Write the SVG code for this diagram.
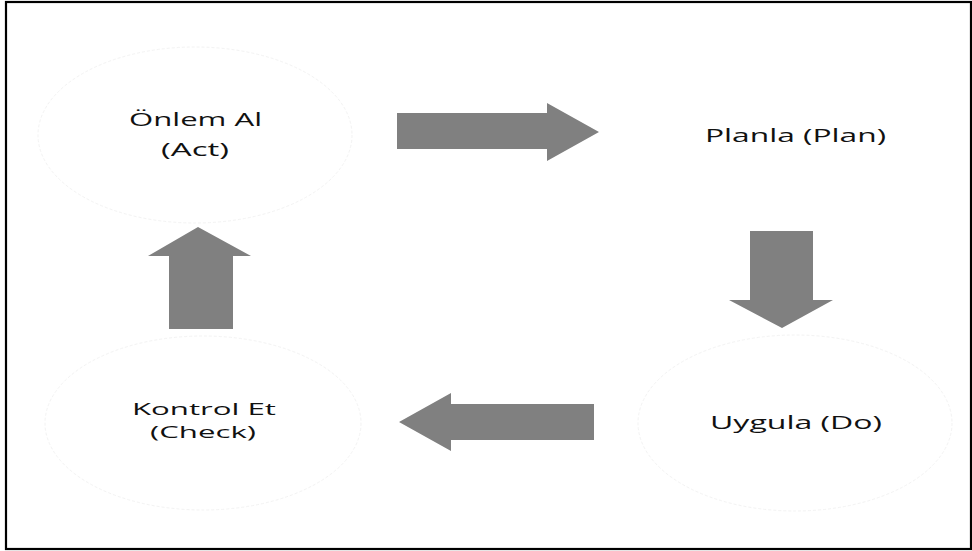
<svg xmlns="http://www.w3.org/2000/svg" width="972" height="551" viewBox="0 0 972 551">
  <style>
    .frame { fill: #ffffff; stroke: #000000; stroke-width: 2.2; }
    .ring { fill: none; stroke: #f3f3f3; stroke-width: 1; stroke-dasharray: 3 2; }
    .label { font-family: "Open Sans", "Noto Sans", "DejaVu Sans", sans-serif; font-size: 19px; fill: #111111; }
    .tight { font-size: 17px; }
    .block { fill: #808080; }
  </style>

  <rect class="frame" x="6" y="2" width="965" height="547"/>

  <g id="act">
    <ellipse class="ring" cx="195" cy="135" rx="157" ry="88"/>
    <text class="label" x="129" y="126" textLength="133" lengthAdjust="spacingAndGlyphs">Önlem Al</text>
    <text class="label" x="161" y="156" textLength="68" lengthAdjust="spacingAndGlyphs">(Act)</text>
  </g>

  <g id="plan">
    <text class="label" x="705" y="142" textLength="181" lengthAdjust="spacingAndGlyphs">Planla (Plan)</text>
  </g>

  <g id="do">
    <ellipse class="ring" cx="795" cy="423" rx="157" ry="88"/>
    <text class="label" x="710" y="429" textLength="172" lengthAdjust="spacingAndGlyphs">Uygula (Do)</text>
  </g>

  <g id="check">
    <ellipse class="ring" cx="203" cy="423" rx="158" ry="87"/>
    <text class="label tight" x="132" y="415" textLength="144" lengthAdjust="spacingAndGlyphs">Kontrol Et</text>
    <text class="label tight" x="150" y="438" textLength="106" lengthAdjust="spacingAndGlyphs">(Check)</text>
  </g>

  <g id="connectors">
    <!-- act to plan -->
    <polygon class="block" points="397,113 547,113 547,103 599,132 547,161 547,149 397,149"/>
    <!-- plan to do -->
    <polygon class="block" points="750,231 813,231 813,300 833,300 782,328 729,300 750,300"/>
    <!-- do to check -->
    <polygon class="block" points="594,404 451,404 451,393 399,422 451,451 451,440 594,440"/>
    <!-- check to act -->
    <polygon class="block" points="169,329 169,256 148,256 198,227 251,256 233,256 233,329"/>
  </g>
</svg>
